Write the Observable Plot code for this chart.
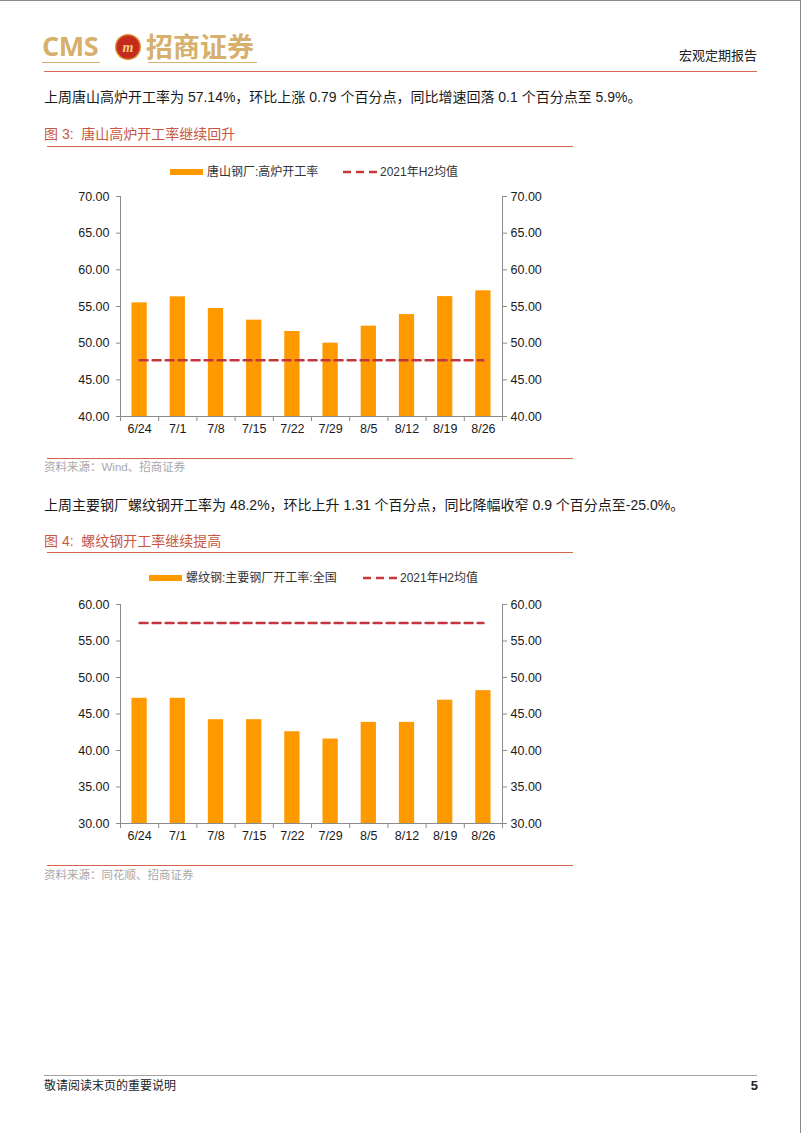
<!DOCTYPE html>
<html>
<head>
<meta charset="utf-8">
<script src="https://cdn.jsdelivr.net/npm/d3@7"></script>
<script src="https://cdn.jsdelivr.net/npm/@observablehq/plot@0.6"></script>
<style>
  html, body { margin: 0; padding: 0; background: #fff; }
  body { width: 802px; height: 1133px; position: relative; overflow: hidden;
         font-family: "Liberation Sans", Arial, "Noto Sans CJK SC", sans-serif; color: #1a1a1a; }
  .abs { position: absolute; white-space: nowrap; line-height: 1; }
  .hline { position: absolute; height: 0; }
  .para { font-size: 14px; }
  .ftitle { font-size: 14px; color: #C9573F; }
  .src { font-size: 11.5px; color: #A8A8A8; }
  .legend { font-size: 12px; color: #333; display: flex; align-items: center; }
  .sw { display: inline-block; width: 33px; height: 6px; background: #FF9900; margin-right: 4px; }
  .dash { display: inline-block; width: 36px; height: 6px; margin-right: 2px; }
</style>
</head>
<body>
<!-- page frame -->
<div style="position:absolute;left:0;top:0;width:800px;height:1133px;border-top:1px solid #8a8a8a;border-right:1px solid #8a8a8a;"></div>

<!-- header -->
<div class="abs" style="left:42px;top:32px;font-family:'Open Sans','Liberation Sans',sans-serif;font-weight:700;font-size:27px;color:#D6B06C;letter-spacing:-0.5px;">CMS</div>
<div class="hline" style="left:42px;top:62px;width:58px;border-top:1px solid #D6B06C;"></div>
<svg style="position:absolute;left:114px;top:33px" width="28" height="28" viewBox="0 0 28 28">
  <circle cx="14" cy="14" r="13" fill="#D98A2B"/>
  <circle cx="14" cy="14" r="11.5" fill="#C42A1E"/>
  <text x="14" y="19" text-anchor="middle" font-family="Liberation Serif" font-style="italic" font-weight="700" font-size="14" fill="#F6D27A">m</text>
</svg>
<div class="abs" style="left:146px;top:32px;font-family:'Noto Sans CJK SC',sans-serif;font-weight:700;font-size:27px;color:#D6B06C;">招商证券</div>
<div class="hline" style="left:148px;top:62px;width:109px;border-top:1px solid #D6B06C;"></div>
<div class="abs" style="right:45px;top:48px;font-family:'Noto Sans CJK SC',sans-serif;font-size:13px;color:#222;">宏观定期报告</div>
<div class="hline" style="left:44px;top:71px;width:713px;border-top:1px solid #D9695A;"></div>

<!-- paragraph 1 -->
<div class="abs para" style="left:44px;top:90px;">上周唐山高炉开工率为 57.14%，环比上涨 0.79 个百分点，同比增速回落 0.1 个百分点至 5.9%。</div>
<div class="abs ftitle" style="left:44px;top:127px;">图 3:&nbsp;&nbsp;唐山高炉开工率继续回升</div>
<div class="hline" style="left:47px;top:146px;width:526px;border-top:1.5px solid #D2654B;"></div>

<div class="abs legend" style="left:170px;top:166px;"><span class="sw"></span><span id="leg1a"></span></div>
<div class="abs legend" style="left:342px;top:166px;"><svg class="dash" viewBox="0 0 36 6"><line x1="1" y1="3" x2="35" y2="3" stroke="#C8383C" stroke-width="2.5" stroke-dasharray="8,5"/></svg><span id="leg1b"></span></div>

<div id="chart1" style="position:absolute;left:44px;top:180px;"></div>

<div class="hline" style="left:47px;top:458px;width:526px;border-top:1.5px solid #D2654B;"></div>
<div class="abs src" style="left:44px;top:462px;">资料来源：Wind、招商证券</div>

<!-- paragraph 2 -->
<div class="abs para" style="left:44px;top:498px;">上周主要钢厂螺纹钢开工率为 48.2%，环比上升 1.31 个百分点，同比降幅收窄 0.9 个百分点至-25.0%。</div>
<div class="abs ftitle" style="left:44px;top:534px;">图 4:&nbsp;&nbsp;螺纹钢开工率继续提高</div>
<div class="hline" style="left:47px;top:552px;width:526px;border-top:1.5px solid #D2654B;"></div>

<div class="abs legend" style="left:149px;top:572px;"><span class="sw"></span><span id="leg2a"></span></div>
<div class="abs legend" style="left:362px;top:572px;"><svg class="dash" viewBox="0 0 36 6"><line x1="1" y1="3" x2="35" y2="3" stroke="#C8383C" stroke-width="2.5" stroke-dasharray="8,5"/></svg><span id="leg2b"></span></div>

<div id="chart2" style="position:absolute;left:44px;top:588px;"></div>

<div class="hline" style="left:47px;top:865px;width:526px;border-top:1.5px solid #D2654B;"></div>
<div class="abs src" style="left:44px;top:870px;">资料来源：同花顺、招商证券</div>

<!-- footer -->
<div class="hline" style="left:44px;top:1075px;width:713px;border-top:1px solid #A0A0A0;"></div>
<div class="abs" style="left:44px;top:1080px;font-size:12px;color:#222;">敬请阅读末页的重要说明</div>
<div class="abs" style="right:44px;top:1079px;font-size:13px;font-weight:700;color:#222;">5</div>

<script>
// ---------- data ----------
const dates = ["6/24","7/1","7/8","7/15","7/22","7/29","8/5","8/12","8/19","8/26"];

const tangshanName = "唐山钢厂:高炉开工率";
const tangshanRate = [55.50, 56.32, 54.73, 53.14, 51.59, 50.00, 52.32, 53.90, 56.35, 57.14];
const tangshanAvg2021H2 = 47.68;
const tangshanTicks = [40, 45, 50, 55, 60, 65, 70];

const rebarName = "螺纹钢:主要钢厂开工率:全国";
const rebarRate = [47.15, 47.15, 44.22, 44.22, 42.57, 41.57, 43.85, 43.85, 46.89, 48.20];
const rebarAvg2021H2 = 57.48;
const rebarTicks = [30, 35, 40, 45, 50, 55, 60];

const avgName = "2021年H2均值";

document.getElementById("leg1a").textContent = tangshanName;
document.getElementById("leg1b").textContent = avgName;
document.getElementById("leg2a").textContent = rebarName;
document.getElementById("leg2b").textContent = avgName;

// ---------- chart builder ----------
function makeChart(values, avg, ticks, height) {
  const n = dates.length;
  const base = ticks[0];
  const rows = values.map((v, i) => ({i, date: dates[i], v}));
  const avgRows = dates.map((d, i) => ({x: i + 0.5, y: avg}));
  const fmt = d3.format(".2f");
  const axisColor = "#8c8c8c";
  return Plot.plot({
    width: 530,
    height: height,
    marginLeft: 76,
    marginRight: 72,
    marginTop: 16,
    marginBottom: 30,
    style: {fontFamily: "'Liberation Sans', Arial, sans-serif", fontSize: "12.5px", color: "#1a1a1a", background: "transparent"},
    x: {type: "linear", domain: [0, n]},
    y: {domain: [base, ticks[ticks.length - 1]]},
    marks: [
      Plot.rectY(rows, {x1: d => d.i + 0.3, x2: d => d.i + 0.7, y1: base, y2: "v", fill: "#FF9900"}),
      Plot.lineY(avgRows, {x: "x", y: "y", stroke: "#C4363E", strokeWidth: 2.5, strokeDasharray: "8,5"}),
      Plot.ruleX([0, n], {stroke: axisColor, strokeWidth: 1}),
      Plot.ruleY([base], {stroke: axisColor, strokeWidth: 1}),
      Plot.axisY({anchor: "left", ticks: ticks, tickFormat: fmt, tickSize: 4, tickPadding: 7, stroke: axisColor, color: "#1a1a1a", label: null}),
      Plot.axisY({anchor: "right", ticks: ticks, tickFormat: fmt, tickSize: 4, tickPadding: 4, stroke: axisColor, color: "#1a1a1a", label: null}),
      Plot.axisX({ticks: d3.range(0, n + 1), tickFormat: () => "", tickSize: 5, stroke: axisColor, label: null}),
      Plot.axisX({ticks: d3.range(n).map(i => i + 0.5), tickFormat: v => dates[Math.floor(v)], tickSize: 0, tickPadding: 8, color: "#1a1a1a", label: null})
    ]
  });
}

document.getElementById("chart1").append(makeChart(tangshanRate, tangshanAvg2021H2, tangshanTicks, 266));
document.getElementById("chart2").append(makeChart(rebarRate, rebarAvg2021H2, rebarTicks, 265));
</script>
</body>
</html>
